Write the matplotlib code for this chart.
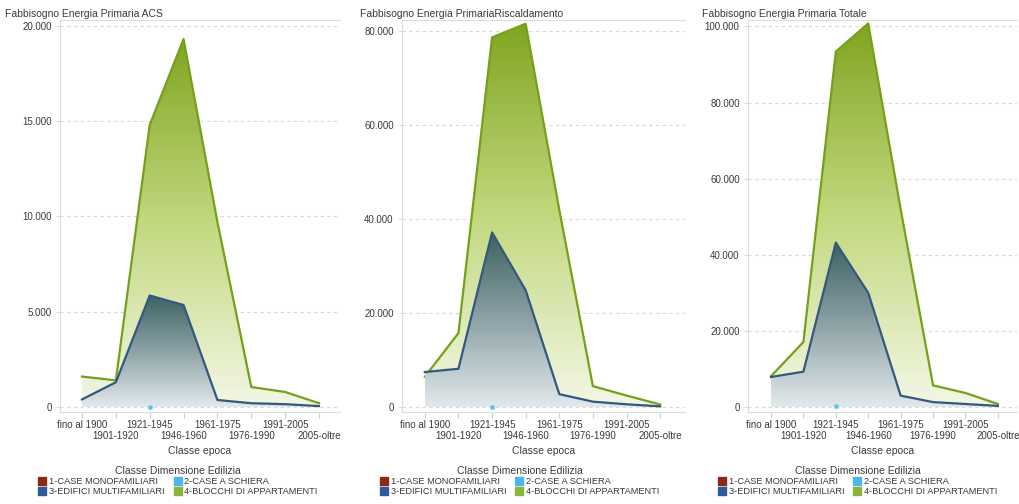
import numpy as np
import matplotlib.pyplot as plt
from matplotlib.colors import LinearSegmentedColormap
from matplotlib.lines import Line2D
from matplotlib.ticker import FuncFormatter

plt.rcParams['font.family'] = ['Liberation Sans', 'DejaVu Sans']

epoche = ['fino al 1900', '1901-1920', '1921-1945', '1946-1960',
          '1961-1975', '1976-1990', '1991-2005', '2005-oltre']
titoli = ['Fabbisogno Energia Primaria ACS',
          'Fabbisogno Energia PrimariaRiscaldamento',
          'Fabbisogno Energia Primaria Totale']
nan = np.nan

# 4-BLOCCHI DI APPARTAMENTI
blocchi_acs = [1600, 1400, 14800, 19300, 9700, 1050, 790, 200]
blocchi_risc = [6500, 15800, 78700, 81600, 42000, 4500, 2500, 600]
blocchi_tot = [8100, 17100, 93400, 100800, 52000, 5700, 3700, 800]
# 3-EDIFICI MULTIFAMILIARI
edifici_acs = [400, 1300, 5850, 5350, 370, 200, 150, 50]
edifici_risc = [7500, 8200, 37200, 24900, 2800, 1200, 640, 200]
edifici_tot = [7900, 9300, 43200, 30000, 3000, 1300, 800, 300]
# 2-CASE A SCHIERA (solo 1921-1945)
schiera_acs = [nan, nan, 20, nan, nan, nan, nan, nan]
schiera_risc = [nan, nan, 150, nan, nan, nan, nan, nan]
schiera_tot = [nan, nan, 170, nan, nan, nan, nan, nan]

serie_blocchi = [blocchi_acs, blocchi_risc, blocchi_tot]
serie_edifici = [edifici_acs, edifici_risc, edifici_tot]
serie_schiera = [schiera_acs, schiera_risc, schiera_tot]

yticks = [[0, 5000, 10000, 15000, 20000],
          [0, 20000, 40000, 60000, 80000],
          [0, 20000, 40000, 60000, 80000, 100000]]
ylims = [(-260, 20300), (-1000, 82400), (-1300, 101700)]
xlims = [(-0.65, 7.62), (-0.68, 7.74), (-0.71, 7.59)]
# axes boxes in pixels: left, right
boxes = [(60, 340), (402, 685), (748, 1017)]
title_x = [5, 360, 702]
legend_cx = [178, 520, 858]

W, H = 1019, 504
top_px, bottom_px = 20, 412

legend_names = ['1-CASE MONOFAMILIARI', '2-CASE A SCHIERA',
                '3-EDIFICI MULTIFAMILIARI', '4-BLOCCHI DI APPARTAMENTI']
legend_colors = ['#8b2a14', '#4db6ea', '#2e5a9c', '#8cb43a']
testo = '#3a3a3a'


def area_sfumata(ax, y, colori, z):
    # area under a series filled with a vertical gradient
    y = np.array(y, dtype=float)
    x = np.arange(len(y))
    poly = ax.fill_between(x, 0, y, color='none', lw=0, zorder=z)
    cmap = LinearSegmentedColormap.from_list('g', colori)
    grad = np.linspace(0, 1, 256).reshape(-1, 1)
    img = ax.imshow(grad, cmap=cmap, aspect='auto', origin='lower',
                    extent=[x[0], x[-1], 0, np.nanmax(y)], zorder=z,
                    interpolation='bilinear')
    img.set_clip_path(poly.get_paths()[0], transform=ax.transData)


fig = plt.figure(figsize=(W / 100, H / 100), dpi=100)

for i in range(3):
    l, r = boxes[i]
    ax = fig.add_axes([l / W, (H - bottom_px) / H, (r - l) / W, (bottom_px - top_px) / H])
    x = np.arange(len(epoche))

    area_sfumata(ax, serie_blocchi[i], ['#f3f7e6', '#c2d87e', '#80a521'], 2)
    ax.plot(x, serie_blocchi[i], color='#76a01a', lw=1.6, zorder=3)
    area_sfumata(ax, serie_edifici[i], ['#e2e9ec', '#8da2a6', '#3c6261'], 4)
    ax.plot(x, serie_edifici[i], color='#34587e', lw=1.6, zorder=5)
    ax.plot(x, serie_schiera[i], 'o', color='#5bc0ee', ms=3.5, mec='#a8dcf5', mew=0.6, zorder=6)

    ax.set_xlim(*xlims[i])
    ax.set_ylim(*ylims[i])
    ax.set_yticks(yticks[i])
    ax.yaxis.set_major_formatter(FuncFormatter(lambda v, p: f'{int(v):,}'.replace(',', '.')))
    # staggered category labels: even on first row, odd on second row
    ax.set_xticks(x[::2])
    ax.set_xticklabels(epoche[::2])
    ax.set_xticks(x[1::2], minor=True)
    ax.set_xticklabels(epoche[1::2], minor=True)
    ax.tick_params(axis='x', which='both', length=4, width=0.8, color='#cfcfcf',
                   labelsize=7, labelcolor=testo)
    ax.tick_params(axis='x', which='major', pad=2)
    ax.tick_params(axis='x', which='minor', pad=10)
    ax.tick_params(axis='y', length=3, color='#dddddd', labelsize=7, labelcolor=testo, pad=3)
    ax.grid(axis='y', ls=(0, (3, 3)), color='#d9d9d9', lw=0.8)
    ax.set_axisbelow(True)
    for s in ['left', 'bottom', 'top']:
        ax.spines[s].set_color('#dcdcdc')
        ax.spines[s].set_linewidth(0.8)
    ax.spines['right'].set_visible(False)
    ax.set_xlabel('Classe epoca', fontsize=7.5, color=testo, labelpad=3)

    fig.text(title_x[i] / W, 1 - 14 / H, titoli[i], fontsize=7.5, color=testo,
             ha='left', va='center')

    handles = [Line2D([], [], marker='s', ls='', ms=5.5, color=c) for c in legend_colors]
    order = [0, 2, 1, 3]
    ax.legend([handles[k] for k in order], [legend_names[k] for k in order],
              ncol=2, title='Classe Dimensione Edilizia', title_fontsize=7.5,
              fontsize=6.7, frameon=False, loc='upper center',
              bbox_to_anchor=(legend_cx[i] / W, 1 - 461 / H), bbox_transform=fig.transFigure,
              borderpad=0, labelspacing=0.15, handlelength=0.8, handletextpad=0.3,
              columnspacing=1.0, labelcolor=testo)
    ax.get_legend().get_title().set_color(testo)

fig.savefig('out.png', dpi=100, facecolor='white')
